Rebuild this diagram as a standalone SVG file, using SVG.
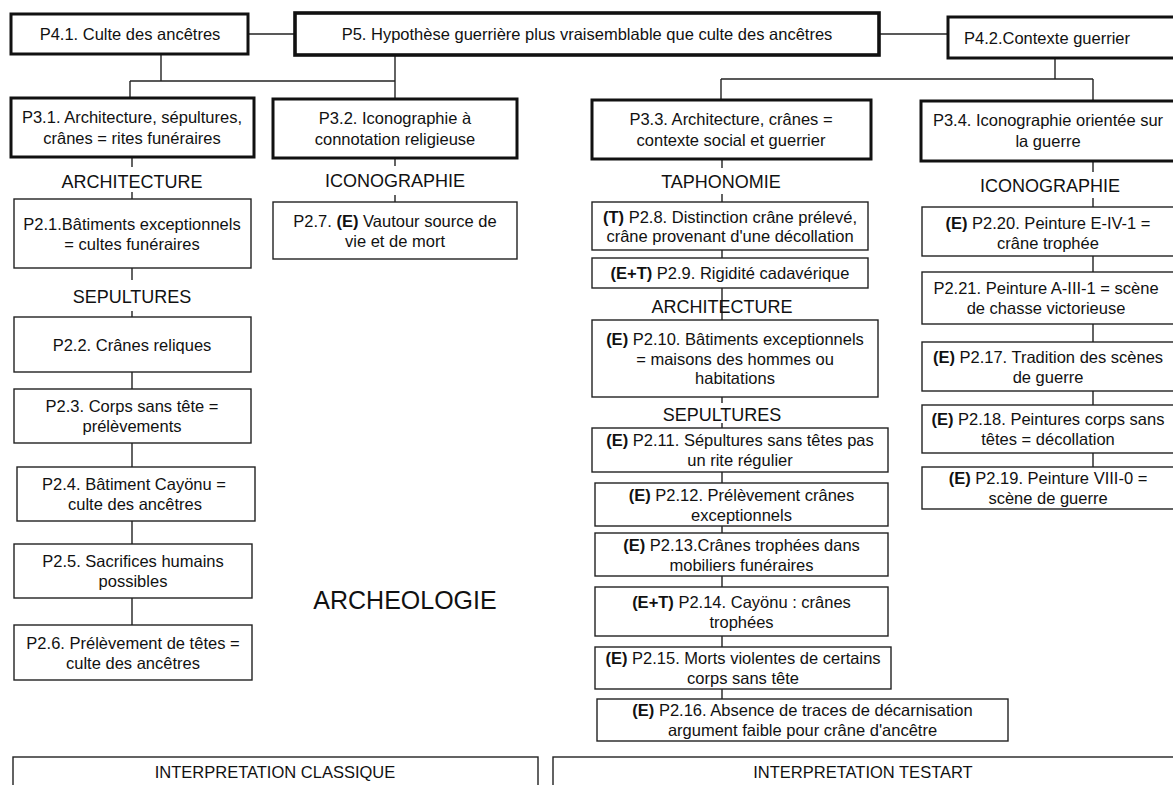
<svg xmlns="http://www.w3.org/2000/svg" width="1173" height="785" viewBox="0 0 1173 785">
<style>
  .thick{fill:#fff;stroke:#111;stroke-width:3}
  .thicker{fill:#fff;stroke:#111;stroke-width:3.6}
  .box{fill:#fff;stroke:#222;stroke-width:1.4}
  text{font-family:"Liberation Sans",Arial,Helvetica,sans-serif;font-size:16.5px;text-anchor:middle;fill:#111}
  .lbl{font-size:18px}
  .big{font-size:25px}
  .b{font-weight:bold}
  #connectors line{stroke:#222;stroke-width:1.4}
</style>
<rect width="1173" height="785" fill="#fff"/>
<g id="connectors">
  <line x1="248" y1="34" x2="295" y2="34"/>
  <line x1="879" y1="34" x2="948" y2="34"/>
  <line x1="161" y1="55" x2="161" y2="81"/>
  <line x1="130" y1="81" x2="395" y2="81"/>
  <line x1="130" y1="81" x2="130" y2="98"/>
  <line x1="395" y1="55" x2="395" y2="99"/>
  <line x1="1055" y1="58" x2="1055" y2="79"/>
  <line x1="721" y1="79" x2="1093" y2="79"/>
  <line x1="721" y1="79" x2="721" y2="100"/>
  <line x1="1093" y1="79" x2="1093" y2="101"/>
  <line x1="132" y1="157" x2="132" y2="167"/>
  <line x1="132" y1="192" x2="132" y2="199"/>
  <line x1="132" y1="268" x2="132" y2="280"/>
  <line x1="132" y1="311" x2="132" y2="317"/>
  <line x1="132" y1="372" x2="132" y2="389"/>
  <line x1="132" y1="443" x2="132" y2="467"/>
  <line x1="132" y1="521" x2="132" y2="544"/>
  <line x1="132" y1="598" x2="132" y2="625"/>
  <line x1="395" y1="158" x2="395" y2="166"/>
  <line x1="395" y1="195" x2="395" y2="202"/>
  <line x1="722" y1="159" x2="722" y2="168"/>
  <line x1="722" y1="194" x2="722" y2="202"/>
  <line x1="722" y1="250" x2="722" y2="258"/>
  <line x1="722" y1="288" x2="722" y2="320"/>
  <line x1="722" y1="397" x2="722" y2="403"/>
  <line x1="722" y1="423" x2="722" y2="428"/>
  <line x1="722" y1="472" x2="722" y2="483"/>
  <line x1="722" y1="526" x2="722" y2="533"/>
  <line x1="722" y1="576" x2="722" y2="587"/>
  <line x1="722" y1="636" x2="722" y2="647"/>
  <line x1="722" y1="689" x2="722" y2="699"/>
  <line x1="1093" y1="161" x2="1093" y2="172"/>
  <line x1="1093" y1="198" x2="1093" y2="207"/>
  <line x1="1093" y1="256" x2="1093" y2="272"/>
  <line x1="1093" y1="324" x2="1093" y2="342"/>
  <line x1="1093" y1="391" x2="1093" y2="405"/>
  <line x1="1093" y1="453" x2="1093" y2="467"/>
</g>

<g id="P4_1"><rect class="thick" x="11" y="14" width="237" height="40"/><text x="130" y="40">P4.1. Culte des ancêtres</text></g>
<g id="P5"><rect class="thicker" x="295" y="13" width="584" height="42"/><text x="587" y="40">P5. Hypothèse guerrière plus vraisemblable que culte des ancêtres</text></g>
<g id="P4_2"><rect class="thick" x="948" y="17" width="240" height="41"/><text x="1047" y="44">P4.2.Contexte guerrier</text></g>

<g id="P3_1"><rect class="thick" x="11" y="98" width="243" height="59"/><text x="132" y="123">P3.1. Architecture, sépultures,</text><text x="132" y="144">crânes = rites funéraires</text></g>
<g id="P3_2"><rect class="thick" x="273" y="99" width="244" height="59"/><text x="395" y="124">P3.2. Iconographie à</text><text x="395" y="145">connotation religieuse</text></g>
<g id="P3_3"><rect class="thick" x="592" y="100" width="279" height="59"/><text x="731" y="125">P3.3. Architecture, crânes =</text><text x="731" y="146">contexte social et guerrier</text></g>
<g id="P3_4"><rect class="thick" x="921" y="101" width="260" height="60"/><text x="1048" y="126">P3.4. Iconographie orientée sur</text><text x="1048" y="147">la guerre</text></g>

<g id="labels">
  <text class="lbl" x="132" y="187.5">ARCHITECTURE</text>
  <text class="lbl" x="132" y="303">SEPULTURES</text>
  <text class="lbl" x="395" y="187">ICONOGRAPHIE</text>
  <text class="lbl" x="721" y="188">TAPHONOMIE</text>
  <text class="lbl" x="722" y="313">ARCHITECTURE</text>
  <text class="lbl" x="722" y="420.5">SEPULTURES</text>
  <text class="lbl" x="1050" y="191.5">ICONOGRAPHIE</text>
  <text class="big" x="405" y="609">ARCHEOLOGIE</text>
</g>

<g id="P2_1"><rect class="box" x="14" y="199" width="237" height="69"/><text x="132" y="229.5">P2.1.Bâtiments exceptionnels</text><text x="132" y="249.5">= cultes funéraires</text></g>
<g id="P2_2"><rect class="box" x="14" y="317" width="237" height="55"/><text x="132" y="350.5">P2.2. Crânes reliques</text></g>
<g id="P2_3"><rect class="box" x="14" y="389" width="237" height="54"/><text x="132" y="412">P2.3. Corps sans tête =</text><text x="132" y="432">prélèvements</text></g>
<g id="P2_4"><rect class="box" x="17" y="467" width="238" height="54"/><text x="134" y="490">P2.4. Bâtiment Cayönu =</text><text x="135" y="510">culte des ancêtres</text></g>
<g id="P2_5"><rect class="box" x="14" y="544" width="238" height="54"/><text x="133" y="567">P2.5. Sacrifices humains</text><text x="133" y="587">possibles</text></g>
<g id="P2_6"><rect class="box" x="14" y="625" width="238" height="55"/><text x="133" y="648.5">P2.6. Prélèvement de têtes =</text><text x="133" y="668.5">culte des ancêtres</text></g>

<g id="P2_7"><rect class="box" x="273" y="202" width="244" height="57"/><text x="395" y="226.5">P2.7. <tspan class="b">(E)</tspan> Vautour source de</text><text x="395" y="246.5">vie et de mort</text></g>

<g id="P2_8"><rect class="box" x="592" y="202" width="276" height="48"/><text x="730" y="222.5"><tspan class="b">(T)</tspan> P2.8. Distinction crâne prélevé,</text><text x="730" y="241.5">crâne provenant d'une décollation</text></g>
<g id="P2_9"><rect class="box" x="592" y="258" width="276" height="30"/><text x="730" y="279"><tspan class="b">(E+T)</tspan> P2.9. Rigidité cadavérique</text></g>
<g id="P2_10"><rect class="box" x="592" y="320" width="286" height="77"/><text x="735" y="345"><tspan class="b">(E)</tspan> P2.10. Bâtiments exceptionnels</text><text x="735" y="364.5">= maisons des hommes ou</text><text x="735" y="384">habitations</text></g>
<g id="P2_11"><rect class="box" x="592" y="428" width="296" height="44"/><text x="740" y="446"><tspan class="b">(E)</tspan> P2.11. Sépultures sans têtes pas</text><text x="740" y="466">un rite régulier</text></g>
<g id="P2_12"><rect class="box" x="595" y="483" width="293" height="43"/><text x="741.5" y="500.5"><tspan class="b">(E)</tspan> P2.12. Prélèvement crânes</text><text x="741.5" y="520.5">exceptionnels</text></g>
<g id="P2_13"><rect class="box" x="595" y="533" width="293" height="43"/><text x="741.5" y="550.5"><tspan class="b">(E)</tspan> P2.13.Crânes trophées dans</text><text x="741.5" y="570.5">mobiliers funéraires</text></g>
<g id="P2_14"><rect class="box" x="595" y="587" width="293" height="49"/><text x="741.5" y="607.5"><tspan class="b">(E+T)</tspan> P2.14. Cayönu : crânes</text><text x="741.5" y="627.5">trophées</text></g>
<g id="P2_15"><rect class="box" x="595" y="647" width="296" height="42"/><text x="743" y="664"><tspan class="b">(E)</tspan> P2.15. Morts violentes de certains</text><text x="743" y="684">corps sans tête</text></g>
<g id="P2_16"><rect class="box" x="597" y="699" width="411" height="42"/><text x="802.5" y="716"><tspan class="b">(E)</tspan> P2.16. Absence de traces de décarnisation</text><text x="802.5" y="736">argument faible pour crâne d'ancêtre</text></g>

<g id="P2_20"><rect class="box" x="922" y="207" width="254" height="49"/><text x="1048" y="228.5"><tspan class="b">(E)</tspan> P2.20. Peinture E-IV-1 =</text><text x="1048" y="249">crâne trophée</text></g>
<g id="P2_21"><rect class="box" x="922" y="272" width="254" height="52"/><text x="1046" y="294">P2.21. Peinture A-III-1 = scène</text><text x="1046" y="314">de chasse victorieuse</text></g>
<g id="P2_17"><rect class="box" x="922" y="342" width="254" height="49"/><text x="1048" y="362.5"><tspan class="b">(E)</tspan> P2.17. Tradition des scènes</text><text x="1048" y="382.5">de guerre</text></g>
<g id="P2_18"><rect class="box" x="922" y="405" width="254" height="48"/><text x="1048" y="425"><tspan class="b">(E)</tspan> P2.18. Peintures corps sans</text><text x="1048" y="445">têtes = décollation</text></g>
<g id="P2_19"><rect class="box" x="922" y="467" width="254" height="42"/><text x="1048" y="484"><tspan class="b">(E)</tspan> P2.19. Peinture VIII-0 =</text><text x="1048" y="504">scène de guerre</text></g>

<g id="interp_classique"><rect class="box" x="13" y="757" width="525" height="60"/><text x="275" y="778">INTERPRETATION CLASSIQUE</text></g>
<g id="interp_testart"><rect class="box" x="553" y="757" width="640" height="60"/><text x="863" y="778">INTERPRETATION TESTART</text></g>
</svg>
